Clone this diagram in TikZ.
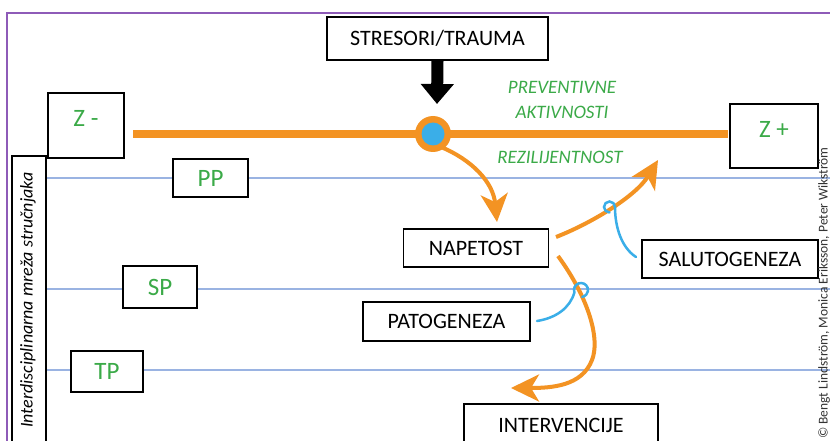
\documentclass[tikz,border=0pt]{standalone}
\usepackage{fontspec}
\setmainfont{Carlito}
\usetikzlibrary{arrows.meta}
\definecolor{zgreen}{HTML}{3BAA48}
\definecolor{zorange}{HTML}{F39323}
\definecolor{zblue}{HTML}{3AAEE8}
\definecolor{zline}{HTML}{9AB3E2}
\definecolor{zpurple}{HTML}{8E5BB8}
\begin{document}
\begin{tikzpicture}[x=1pt,y=-1pt,
  box/.style={draw=black, line width=1.6pt, fill=white, inner sep=0pt, font=\fontsize{22}{25}\selectfont},
  gbox/.style={box, text=zgreen, font=\fontsize{25}{28}\selectfont},
  glabel/.style={text=zgreen, font=\fontsize{19}{25}\selectfont\itshape, align=center},
  hline/.style={draw=zline, line width=1.3pt},
  oarrow/.style={draw=zorange, line width=4pt, -{Stealth[length=28pt,width=27pt,inset=8pt]}},
  hook/.style={draw=zblue, line width=2.5pt, line cap=round}
]
\useasboundingbox (0,0) rectangle (830,441);
\clip (0,0) rectangle (830,441);
\fill[white] (0,0) rectangle (830,441);

% frame
\coordinate (fa) at (7,441);
\coordinate (fb) at (7,13);
\coordinate (fc) at (830,13);
\draw[zpurple, line width=2pt] (fa) -- (fb) -- (fc);

% level lines
\coordinate (l1a) at (45,178); \coordinate (l1b) at (830,178);
\coordinate (l2a) at (45,289); \coordinate (l2b) at (830,289);
\coordinate (l3a) at (45,370); \coordinate (l3b) at (830,370);
\draw[hline] (l1a) -- (l1b);
\draw[hline] (l2a) -- (l2b);
\draw[hline] (l3a) -- (l3b);

% network box
\node[box, minimum width=34, minimum height=300, anchor=north west] (net) at (11,155) {};
\node[rotate=90, font=\fontsize{18}{20}\selectfont\itshape] (nettext) at (28,300) {Interdisciplinarna mreža stručnjaka};

% top
\node[box, minimum width=221, minimum height=43] (stress) at (437.5,38.5) {STRESORI/TRAUMA};
\coordinate (stip) at (437,104);
\draw[line width=12pt, -{Triangle[width=32pt,length=20pt]}] (stress.south) -- (stip);

% orange axis
\coordinate (ol) at (133,134);
\coordinate (or) at (728,134);
\draw[zorange, line width=8pt] (ol) -- (or);
\node[circle, fill=zorange, minimum size=36, inner sep=0pt] (hub) at (433,134) {};
\node[circle, fill=zblue, minimum size=23, inner sep=0pt] (hubin) at (433,134) {};

\node[gbox, minimum width=76, text height=34, text depth=31] (zminus) at (86,125.5) {Z -};
\node[gbox, minimum width=88, text height=34, text depth=30, anchor=north] (zplus) at (774,103) {Z +};

\node[glabel] (prev) at (562,99.5) {PREVENTIVNE\\AKTIVNOSTI};
\node[glabel] (rez) at (560,157) {REZILIJENTNOST};

% levels
\node[gbox, minimum width=75, minimum height=38] (pp) at (210.5,178) {PP};
\node[gbox, minimum width=74, minimum height=42] (sp) at (160,287) {SP};
\node[gbox, minimum width=72, minimum height=41] (tp) at (107,371.5) {TP};

% process boxes
\node[box, minimum width=145, minimum height=38] (nap) at (476,248) {NAPETOST};
\node[box, minimum width=176, minimum height=38] (salu) at (730,259) {SALUTOGENEZA};
\node[box, minimum width=167, minimum height=39] (pato) at (446.5,321.5) {PATOGENEZA};
\node[box, minimum width=194, text height=29, text depth=20, anchor=north] (interv) at (561,403) {INTERVENCIJE};

% orange arrows
\coordinate (a1s) at (441,147);
\coordinate (a1e) at (497,222);
\draw[oarrow] (a1s) .. controls (472,160) and (493,182) .. (a1e);
\coordinate (a2s) at (556,237);
\coordinate (a2e) at (658,160);
\draw[oarrow] (a2s) .. controls (592,223) and (636,196) .. (a2e);
\coordinate (a3s) at (558,256);
\coordinate (a3m) at (592,360);
\coordinate (a3e) at (511,388);
\draw[oarrow] (a3s) .. controls (590,300) and (600,340) .. (a3m) .. controls (582,386) and (552,388) .. (a3e);

% blue hooks
\coordinate (h1s) at (636,257);
\coordinate (h1m) at (615,207);
\draw[hook] (h1s) .. controls (622,248) and (615,228) .. (h1m) arc[start angle=0, end angle=-270, radius=5.5];
\coordinate (h2s) at (537,321);
\coordinate (h2m) at (574.4,292.4);
\draw[hook] (h2s) .. controls (556,318) and (570,308) .. (h2m) arc[start angle=160, end angle=440, radius=7];

% copyright
\node[rotate=90, font=\fontsize{13.5}{15}\selectfont, text=black!80] (copy) at (824,293) {© Bengt Lindström, Monica Eriksson, Peter Wikström};
\end{tikzpicture}
\end{document}
